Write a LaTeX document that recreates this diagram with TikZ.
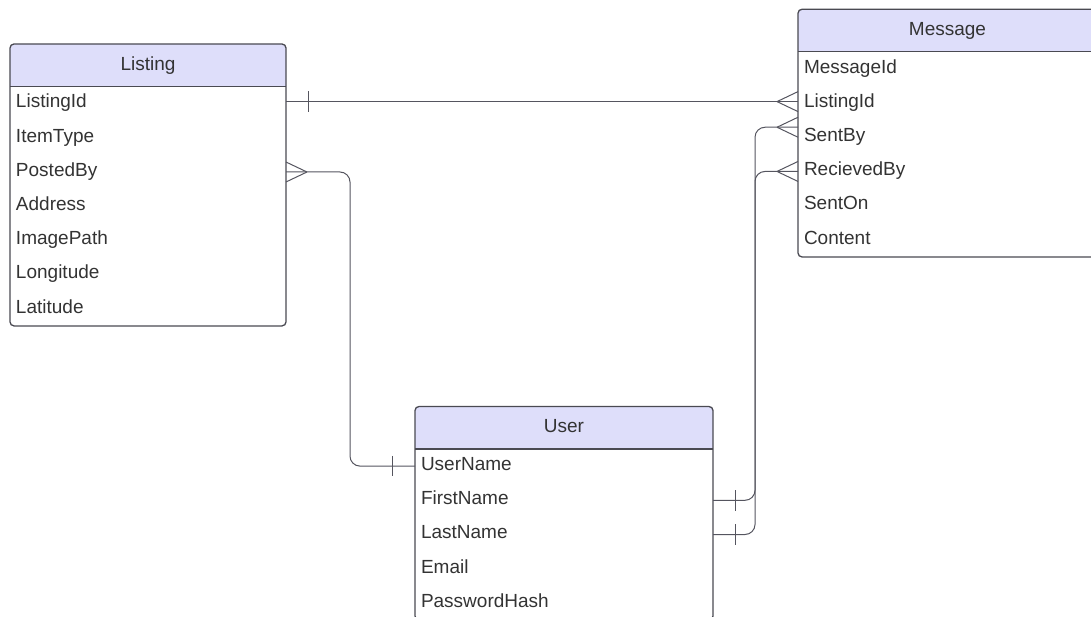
\documentclass[tikz,border=0pt]{standalone}
\usepackage{fontspec}
\setmainfont{Liberation Sans}
\usetikzlibrary{positioning,backgrounds}

\definecolor{ink}{HTML}{333333}
\definecolor{framec}{HTML}{4A4A52}
\definecolor{hdrfill}{HTML}{DEDEFA}
\definecolor{linec}{HTML}{55555F}

\tikzset{
  hdr/.style={minimum width=#1, minimum height=42.5, inner sep=0, outer sep=0,
    text=ink, text height=14, text depth=4.4, font=\fontsize{19}{22}\selectfont},
  row/.style={minimum width=#1, text width=#1-12, inner xsep=6, inner ysep=0,
    outer sep=0, minimum height=34.2, align=left, text=ink, text height=13.5,
    text depth=4.9, font=\fontsize{19}{22}\selectfont},
  frame/.style={draw=framec, line width=1.3},
  conn/.style={draw=linec, line width=1},
  crowL/.pic={\draw[conn] (-21,0) -- (0,10) (-21,0) -- (0,-10);},
  crowR/.pic={\draw[conn] (21,0) -- (0,10) (21,0) -- (0,-10);},
  onebar/.pic={\draw[conn] (0,-10.3) -- (0,10.3);},
}

\begin{document}
\begin{tikzpicture}[x=1pt, y=-1pt]
\useasboundingbox (0,0) rectangle (1091,617);

% ---------- Listing ----------
\node[hdr=276] (L-h) at (148,65.25) {Listing};
\node[row=276, below=0pt of L-h] (L-ListingId) {ListingId};
\node[row=276, below=0pt of L-ListingId] (L-ItemType) {ItemType};
\node[row=276, below=0pt of L-ItemType] (L-PostedBy) {PostedBy};
\node[row=276, below=0pt of L-PostedBy] (L-Address) {Address};
\node[row=276, below=0pt of L-Address] (L-ImagePath) {ImagePath};
\node[row=276, below=0pt of L-ImagePath] (L-Longitude) {Longitude};
\node[row=276, below=0pt of L-Longitude] (L-Latitude) {Latitude};

% ---------- Message ----------
\node[hdr=299] (M-h) at (947.5,30.5) {Message};
\node[row=299, below=0pt of M-h] (M-MessageId) {MessageId};
\node[row=299, below=0pt of M-MessageId] (M-ListingId) {ListingId};
\node[row=299, below=0pt of M-ListingId] (M-SentBy) {SentBy};
\node[row=299, below=0pt of M-SentBy] (M-RecievedBy) {RecievedBy};
\node[row=299, below=0pt of M-RecievedBy] (M-SentOn) {SentOn};
\node[row=299, below=0pt of M-SentOn] (M-Content) {Content};

% ---------- User ----------
\node[hdr=298] (U-h) at (564,427.75) {User};
\node[row=298, below=0pt of U-h] (U-UserName) {UserName};
\node[row=298, below=0pt of U-UserName] (U-FirstName) {FirstName};
\node[row=298, below=0pt of U-FirstName] (U-LastName) {LastName};
\node[row=298, below=0pt of U-LastName] (U-Email) {Email};
\node[row=298, below=0pt of U-Email] (U-PasswordHash) {PasswordHash};

% header fills and table frames
\begin{scope}[on background layer]
  \foreach \h in {L-h, M-h, U-h}{
    \fill[hdrfill] (\h.south west) [rounded corners=4] -- (\h.north west)
      -- (\h.north east) [sharp corners] -- (\h.south east) -- cycle;
  }
\end{scope}
\foreach \h/\last in {L-h/L-Latitude, M-h/M-Content, U-h/U-PasswordHash}{
  \draw[frame, rounded corners=4] (\h.north west) rectangle (\last.south east);
  \draw[frame] (\h.south west) -- (\h.south east);
}

% ---------- relationships ----------
% Listing.ListingId  -- Message.ListingId
\draw[conn] ([yshift=2]L-ListingId.east) coordinate (c1) -- (c1 -| M-ListingId.west) coordinate (c1e);
\pic at ([xshift=22]c1) {onebar};
\pic at (c1e) {crowL};

% Listing.PostedBy -- User.UserName
\draw[conn, rounded corners=10] (L-PostedBy.east) -- ++(64,0) |- (U-UserName.west);
\pic at (L-PostedBy.east) {crowR};
\pic at ([xshift=-23]U-UserName.west) {onebar};

% User.FirstName -- Message.SentBy
\draw[conn, rounded corners=10] (U-FirstName.east) -- ++(42,0) |- ([yshift=10]M-SentBy.west) coordinate (c3e);
\pic at ([xshift=22]U-FirstName.east) {onebar};
\pic at (c3e) {crowL};

% User.LastName -- Message.RecievedBy
\draw[conn, rounded corners=10] (U-LastName.east) -- ++(42,0) |- (M-RecievedBy.west);
\pic at ([xshift=22]U-LastName.east) {onebar};
\pic at (M-RecievedBy.west) {crowL};
\end{tikzpicture}
\end{document}
